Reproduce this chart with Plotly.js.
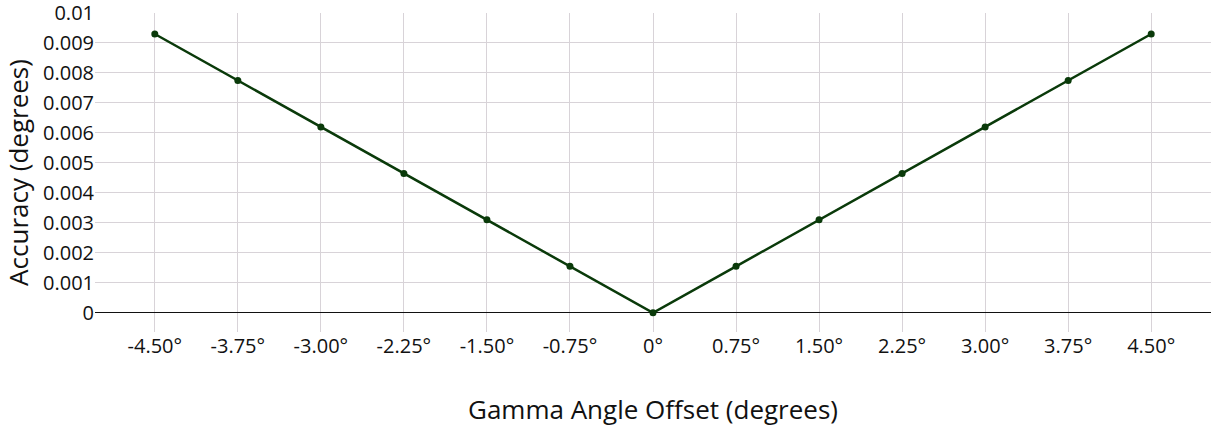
<!DOCTYPE html>
<html>
<head>
<meta charset="utf-8">
<script src="https://cdn.plot.ly/plotly-3.0.1.min.js"></script>
<style>html,body{margin:0;padding:0;background:#fff;}#chart{width:1213px;height:433px;}</style>
</head>
<body>
<div id="chart"></div>
<script>
const offsets = [-4.5, -3.75, -3.0, -2.25, -1.5, -0.75, 0, 0.75, 1.5, 2.25, 3.0, 3.75, 4.5];
const accuracy = [0.0093, 0.00775, 0.0062, 0.00465, 0.0031, 0.00155, 0, 0.00155, 0.0031, 0.00465, 0.0062, 0.00775, 0.0093];
const tickLabels = ['-4.50°', '-3.75°', '-3.00°', '-2.25°', '-1.50°', '-0.75°', '0°', '0.75°', '1.50°', '2.25°', '3.00°', '3.75°', '4.50°'];
const yTicks = [0, 0.001, 0.002, 0.003, 0.004, 0.005, 0.006, 0.007, 0.008, 0.009, 0.01];
const yTickLabels = ['0', '0.001', '0.002', '0.003', '0.004', '0.005', '0.006', '0.007', '0.008', '0.009', '0.01'];

const trace = {
  x: offsets, y: accuracy, type: 'scatter', mode: 'lines+markers',
  line: {color: '#0a3a0a', width: 2.5},
  marker: {color: '#0a3a0a', size: 7},
  hoverinfo: 'none'
};
const layout = {
  width: 1213, height: 433,
  margin: {l: 95, r: 2, t: 13, b: 101},
  paper_bgcolor: '#fff', plot_bgcolor: '#fff',
  font: {family: '"Open Sans", sans-serif', color: '#111', size: 20},
  showlegend: false,
  xaxis: {
    range: [-5.04, 5.04],
    tickmode: 'array', tickvals: offsets, ticktext: tickLabels,
    showgrid: true, gridcolor: '#d8d3d8', gridwidth: 1,
    zeroline: false, showline: false, ticks: '',
    tickfont: {size: 20},
    title: {text: 'Gamma Angle Offset (degrees)', font: {size: 26}, standoff: 42}
  },
  yaxis: {
    range: [-0.00064, 0.01],
    tickmode: 'array', tickvals: yTicks, ticktext: yTickLabels,
    ticklabeloverflow: 'allow',
    showgrid: true, gridcolor: '#d8d3d8', gridwidth: 1,
    zeroline: true, zerolinecolor: '#111', zerolinewidth: 1.2,
    showline: false, ticks: '',
    tickfont: {size: 20},
    title: {text: 'Accuracy (degrees)', font: {size: 26}, standoff: 8}
  }
};
Plotly.newPlot('chart', [trace], layout, {staticPlot: true, displayModeBar: false});
</script>
</body>
</html>
